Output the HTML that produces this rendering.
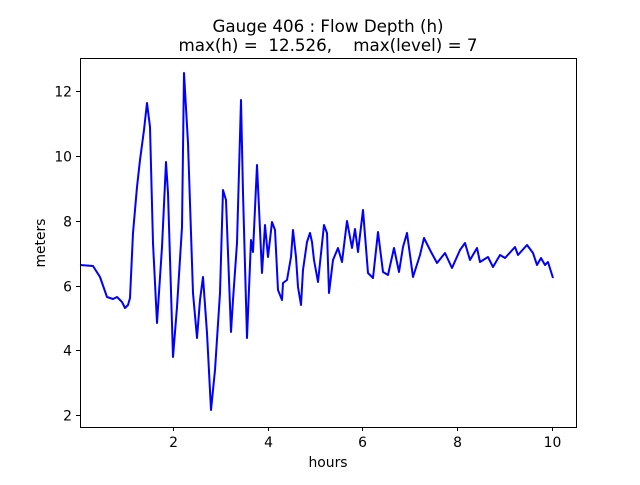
<!DOCTYPE html><html><head><style>body{margin:0;background:#fff}svg{font-family:"DejaVu Sans",sans-serif}</style></head><body>
<svg width="640" height="480" xmlns="http://www.w3.org/2000/svg">
<rect width="640" height="480" fill="#fff"/>
<text x="328" y="32" font-size="16.7" text-anchor="middle">Gauge 406 : Flow Depth (h)</text>
<text x="328" y="51" font-size="16.7" text-anchor="middle" xml:space="preserve">max(h) =  12.526,    max(level) = 7</text>
<polyline fill="none" stroke="#0000ff" stroke-width="2" stroke-linejoin="round" points="80,265 93,266 100,277 107,297 113,299 117,297 122,302 125,308 128,305 130,298 133,233 137,187 140,160 144,130 147,103 150,127 153,243 157,323 162,247 166,162 168,193 173,357 177,307 182,227 184,73 188,143 193,293 197,338 200,300 203,277 207,333 211,410 215,370 220,293 223,190 226,200 231,332 233,300 237,243 241,100 243,193 247,338 251,240 253,252 257,165 262,273 265,225 268,257 272,222 275,230 278,290 282,300 283,283 287,280 291,257 293,230 296,257 298,287 301,305 303,270 307,242 310,233 312,242 314,260 318,282 324,225 327,233 329,293 333,260 338,248 342,262 347,221 352,248 355,229 358,252 363,210 368,273 373,278 378,232 383,272 388,275 394,248 399,272 403,247 407,233 413,277 420,255 424,238 430,250 437,263 445,253 452,268 460,250 465,243 470,260 477,248 480,262 488,257 493,267 500,255 505,258 515,247 518,255 527,245 533,253 537,265 541,258 545,265 548,262 553,278"/>
<rect x="80.5" y="58.5" width="496" height="369" fill="none" stroke="#000" stroke-width="1"/>
<g stroke="#000" stroke-width="1">
<line x1="173.5" y1="427" x2="173.5" y2="431"/><line x1="268.5" y1="427" x2="268.5" y2="431"/><line x1="362.5" y1="427" x2="362.5" y2="431"/><line x1="457.5" y1="427" x2="457.5" y2="431"/><line x1="552.5" y1="427" x2="552.5" y2="431"/>
<line x1="76" y1="415.5" x2="80" y2="415.5"/><line x1="76" y1="350.5" x2="80" y2="350.5"/><line x1="76" y1="286.5" x2="80" y2="286.5"/><line x1="76" y1="221.5" x2="80" y2="221.5"/><line x1="76" y1="156.5" x2="80" y2="156.5"/><line x1="76" y1="91.5" x2="80" y2="91.5"/>
</g>
<g font-size="13.9" text-anchor="middle">
<text x="173.5" y="447">2</text><text x="268.5" y="447">4</text><text x="362.5" y="447">6</text><text x="457.5" y="447">8</text><text x="552.5" y="447">10</text>
<text x="328" y="467">hours</text>
</g>
<g font-size="13.9" text-anchor="end">
<text x="72" y="420.5">2</text><text x="72" y="355.5">4</text><text x="72" y="291.5">6</text><text x="72" y="226.5">8</text><text x="72" y="161.5">10</text><text x="72" y="96.5">12</text>
</g>
<text transform="translate(45,243) rotate(-90)" font-size="13.9" text-anchor="middle">meters</text>
</svg></body></html>
